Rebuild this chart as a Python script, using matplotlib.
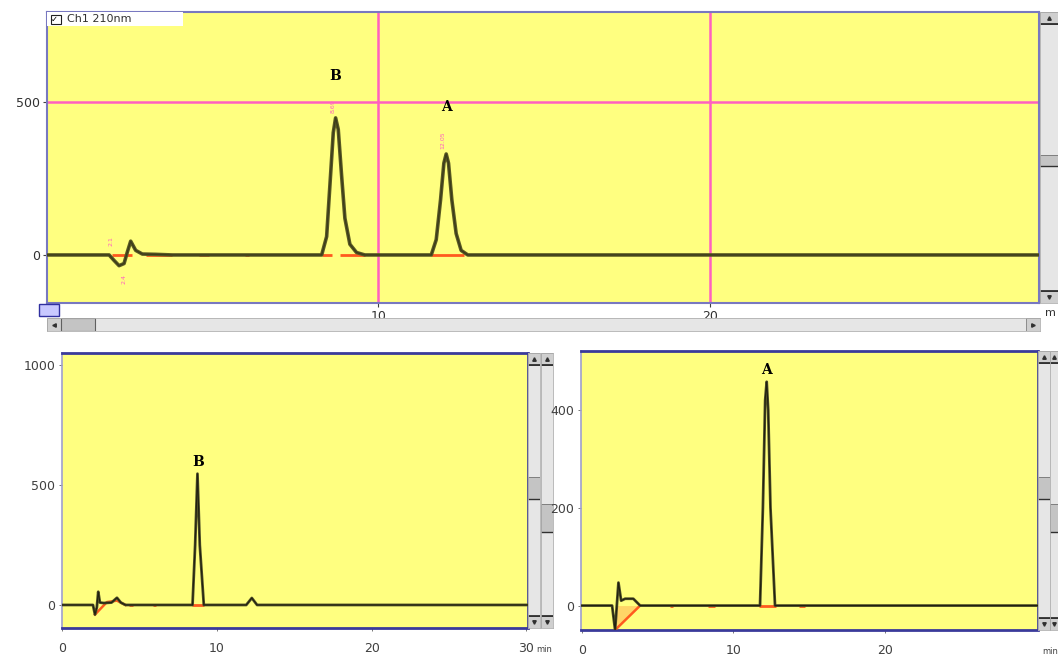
import matplotlib
matplotlib.use('Agg')
import matplotlib.pyplot as plt
from matplotlib.patches import Rectangle
import numpy as np

# ---------------- data ----------------
channel_label = "Ch1 210nm"

top_time = [0, 1.9, 2.05, 2.2, 2.35, 2.45, 2.55, 2.7, 2.9, 3.3, 3.8,
            8.3, 8.45, 8.55, 8.65, 8.72, 8.8, 8.9, 9.0, 9.15, 9.35, 9.6,
            11.6, 11.75, 11.88, 11.98, 12.05, 12.12, 12.22, 12.35, 12.5, 12.7,
            29.9]
top_signal = [0, 0, -18, -35, -28, 10, 45, 15, 3, 2, 0,
              0, 60, 230, 400, 448, 410, 260, 120, 35, 8, 0,
              0, 50, 180, 300, 330, 300, 180, 70, 15, 0,
              0]
top_peaks = ['B', 'A']
top_peak_times = [8.7, 12.05]
top_peak_label_y = [585, 484]
top_ticks_x = [10, 20]
top_ticks_y = [0, 500]
top_grid_x = [10, 20]
top_grid_y = [500]
top_integration = [(8.3, 8.6), (8.85, 9.6), (11.6, 12.6), (2.0, 2.6), (3.0, 3.8), (4.6, 4.9), (6.0, 6.1)]

left_time = [0, 2.0, 2.13, 2.25, 2.34, 2.45, 2.7, 3.2, 3.55, 3.8, 4.1,
             8.43, 8.6, 8.75, 8.9, 9.16,
             11.9, 12.26, 12.6, 30.1]
left_signal = [0, 0, -40, -10, 55, 10, 8, 10, 30, 10, 0,
               0, 250, 547, 250, 0,
               0, 29, 0, 0]
left_peaks = ['B']
left_peak_times = [8.8]
left_peak_label_y = [596]
left_ticks_x = [0, 10, 20, 30]
left_ticks_y = [0, 500, 1000]
left_red_time = [2.13, 2.9, 3.55, 4.1]
left_red_signal = [-40, 12, 18, 0]
left_integration = [(4.3, 4.6), (5.9, 6.1), (8.4, 9.2)]

right_time = [0, 2.0, 2.2, 2.42, 2.6, 2.86, 3.4, 3.85,
              11.76, 11.95, 12.1, 12.2, 12.3, 12.45, 12.75, 30.1]
right_signal = [0, 0, -50, 47, 10, 14, 14, 0,
                0, 200, 420, 458, 400, 200, 0, 0]
right_peaks = ['A']
right_peak_times = [12.2]
right_peak_label_y = [482]
right_ticks_x = [0, 10, 20]
right_ticks_y = [0, 200, 400]
right_red_time = [2.2, 3.85]
right_red_signal = [-50, 0]
right_integration = [(5.85, 6.05), (8.3, 8.8), (11.7, 12.8), (14.3, 14.7)]

# ---------------- styling ----------------
W, H = 1058, 665
fig = plt.figure(figsize=(W / 100, H / 100), dpi=100)
fig.patch.set_facecolor('white')

YELLOW = '#ffff80'
TRACE = '#3c3c1c'
PINK = '#ff60c0'
BORDER = '#7878c0'
DARKBORDER = '#3a3a9a'
ORANGE = '#ff5a1e'


def rect(l, t, r, b):
    return [l / W, (H - b) / H, (r - l) / W, (b - t) / H]


def scrollbar(l, t, r, b, vertical=True, thumb=None):
    ax = fig.add_axes(rect(l, t, r, b))
    ax.set_xlim(0, 1)
    ax.set_ylim(0, 1)
    ax.set_facecolor('#e6e6e6')
    for s in ax.spines.values():
        s.set_color('#b0b0b0')
        s.set_linewidth(0.6)
    ax.set_xticks([])
    ax.set_yticks([])
    if vertical:
        h = 12 / (b - t)
        ax.add_patch(Rectangle((0, 1 - h), 1, h, facecolor='#cfcfcf', edgecolor='#808080', lw=0.6))
        ax.add_patch(Rectangle((0, 0), 1, h, facecolor='#cfcfcf', edgecolor='#808080', lw=0.6))
        ax.plot([0.5], [1 - h / 2], marker='^', ms=2.5, color='#303030')
        ax.plot([0.5], [h / 2], marker='v', ms=2.5, color='#303030')
        ax.axhline(1 - h, color='#202020', lw=1.2)
        ax.axhline(h, color='#202020', lw=1.2)
        if thumb is not None:
            ax.add_patch(Rectangle((0, thumb[0]), 1, thumb[1] - thumb[0], facecolor='#c4c4c4',
                                   edgecolor='#707070', lw=0.6))
            ax.axhline(thumb[0], color='#303030', lw=1.0)
    else:
        w = 14 / (r - l)
        ax.add_patch(Rectangle((0, 0), w, 1, facecolor='#cfcfcf', edgecolor='#808080', lw=0.6))
        ax.add_patch(Rectangle((1 - w, 0), w, 1, facecolor='#cfcfcf', edgecolor='#808080', lw=0.6))
        ax.plot([w / 2], [0.5], marker='<', ms=2.5, color='#303030')
        ax.plot([1 - w / 2], [0.5], marker='>', ms=2.5, color='#303030')
        if thumb is not None:
            ax.add_patch(Rectangle((thumb[0], 0), thumb[1] - thumb[0], 1, facecolor='#c4c4c4',
                                   edgecolor='#606060', lw=0.8))
    return ax


def integ(ax, intervals):
    for a, b in intervals:
        ax.plot([a, b], [0, 0], color=ORANGE, lw=2.0, solid_capstyle='butt', zorder=3)


def style_bottom(ax):
    ax.tick_params(axis='both', direction='out', length=2, width=0.6, color='#606060',
                   labelsize=9, labelcolor='#404040')
    ax.tick_params(axis='x', pad=8)
    ax.tick_params(axis='y', pad=3)
    ax.spines['top'].set_color(DARKBORDER)
    ax.spines['top'].set_linewidth(2.0)
    ax.spines['bottom'].set_color(DARKBORDER)
    ax.spines['bottom'].set_linewidth(2.0)
    ax.spines['left'].set_color('#a0a0d0')
    ax.spines['left'].set_linewidth(1.2)
    ax.spines['right'].set_color(DARKBORDER)
    ax.spines['right'].set_linewidth(1.2)


# ---------------- top panel ----------------
ax1 = fig.add_axes(rect(47, 12, 1039, 303))
ax1.set_facecolor(YELLOW)
ax1.set_xlim(0.03, 29.9)
ax1.set_ylim(-157, 794)
for gx in top_grid_x:
    ax1.axvline(gx, color=PINK, lw=1.8, zorder=1)
for gy in top_grid_y:
    ax1.axhline(gy, color=PINK, lw=1.8, zorder=1)
integ(ax1, top_integration)
ax1.plot(top_time, top_signal, color='#5a5a22', lw=2.6, zorder=4)
ax1.plot(top_time, top_signal, color=TRACE, lw=1.0, zorder=5)
for name, t, y in zip(top_peaks, top_peak_times, top_peak_label_y):
    ax1.text(t, y, name, ha='center', va='center', fontsize=10, fontweight='bold',
             family='DejaVu Serif', color='black', zorder=6)
# small retention-time tags
ax1.text(8.65, 465, '8.69', rotation=90, fontsize=4.5, color=PINK, ha='center', va='bottom', zorder=6)
ax1.text(11.95, 345, '12.05', rotation=90, fontsize=4.5, color=PINK, ha='center', va='bottom', zorder=6)
ax1.text(1.95, 30, '2.1', rotation=90, fontsize=4.5, color=PINK, ha='center', va='bottom', zorder=6)
ax1.text(2.35, -95, '2.4', rotation=90, fontsize=4.5, color=PINK, ha='center', va='bottom', zorder=6)
for s in ax1.spines.values():
    s.set_color(BORDER)
    s.set_linewidth(1.5)
ax1.set_xticks(top_ticks_x)
ax1.set_yticks(top_ticks_y)
ax1.tick_params(axis='both', direction='out', length=3, width=0.8, color='#404040',
                labelsize=9, labelcolor='#303030', pad=2)
# channel legend box
ax1.add_patch(Rectangle((0, 0.952), 0.137, 0.048, transform=ax1.transAxes,
                        facecolor='white', edgecolor='none', zorder=7))
ax1.add_patch(Rectangle((0.004, 0.96), 0.01, 0.03, transform=ax1.transAxes,
                        facecolor='white', edgecolor='#202020', lw=0.8, zorder=8))
ax1.text(0.004, 0.975, '\u2713', transform=ax1.transAxes, fontsize=6, va='center', ha='left', zorder=9)
ax1.text(0.02, 0.975, channel_label, transform=ax1.transAxes, fontsize=8, color='#303030',
         va='center', ha='left', zorder=9)
fig.text(1045 / W, (H - 313) / H, 'm', fontsize=8, color='#303030', ha='left', va='center')
# small blue icon at origin
fig.patches.append(Rectangle((39 / W, (H - 316) / H), 20 / W, 12 / H, transform=fig.transFigure,
                             facecolor='#c8c8ff', edgecolor='#3030a0', lw=1.0))

scrollbar(1040, 12, 1058, 303, vertical=True, thumb=(0.47, 0.51))
scrollbar(47, 318, 1040, 331, vertical=False, thumb=(0.014, 0.048))

# ---------------- bottom left ----------------
ax2 = fig.add_axes(rect(62, 353, 528, 628))
ax2.set_facecolor(YELLOW)
ax2.set_xlim(0, 30.1)
ax2.set_ylim(-96, 1050)
integ(ax2, left_integration)
ax2.plot(left_red_time, left_red_signal, color=ORANGE, lw=1.8, zorder=3)
ax2.plot(left_time, left_signal, color='#505028', lw=2.0, zorder=4)
ax2.plot(left_time, left_signal, color='#202010', lw=0.8, zorder=5)
for name, t, y in zip(left_peaks, left_peak_times, left_peak_label_y):
    ax2.text(t, y, name, ha='center', va='center', fontsize=10, fontweight='bold',
             family='DejaVu Serif', color='black', zorder=6)
ax2.set_xticks(left_ticks_x)
ax2.set_yticks(left_ticks_y)
style_bottom(ax2)
fig.text(536 / W, (H - 650) / H, 'min', fontsize=6, color='#404040', ha='left', va='center')
scrollbar(528, 353, 540, 628, vertical=True, thumb=(0.47, 0.55))
scrollbar(541, 353, 553, 628, vertical=True, thumb=(0.35, 0.45))

# ---------------- bottom right ----------------
ax3 = fig.add_axes(rect(581, 351, 1038, 630))
ax3.set_facecolor(YELLOW)
ax3.set_xlim(-0.05, 30.1)
ax3.set_ylim(-50, 521)
integ(ax3, right_integration)
ax3.fill_between(right_red_time, right_red_signal, [0, 0], color=ORANGE, alpha=0.25, lw=0, zorder=2)
ax3.plot(right_red_time, right_red_signal, color=ORANGE, lw=1.8, zorder=3)
ax3.plot(right_time, right_signal, color='#505028', lw=2.0, zorder=4)
ax3.plot(right_time, right_signal, color='#202010', lw=0.8, zorder=5)
for name, t, y in zip(right_peaks, right_peak_times, right_peak_label_y):
    ax3.text(t, y, name, ha='center', va='center', fontsize=10, fontweight='bold',
             family='DejaVu Serif', color='black', zorder=6)
ax3.set_xticks(right_ticks_x)
ax3.set_yticks(right_ticks_y)
style_bottom(ax3)
fig.text(1042 / W, (H - 652) / H, 'min', fontsize=6, color='#404040', ha='left', va='center')
scrollbar(1038, 351, 1050, 630, vertical=True, thumb=(0.47, 0.55))
scrollbar(1050, 351, 1058, 630, vertical=True, thumb=(0.35, 0.45))

fig.savefig('out.png', dpi=100, facecolor='white')
